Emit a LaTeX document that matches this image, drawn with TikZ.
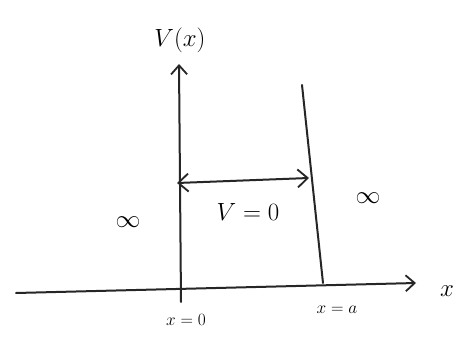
\documentclass[tikz,border=0pt]{standalone}
\usetikzlibrary{arrows.meta}
\begin{document}
\begin{tikzpicture}[x=1pt,y=-1pt,
  stroke/.style={line width=2pt,line cap=round,color=black!85},
  lbl/.style={font=\fontsize{24}{26}\selectfont,inner sep=0pt},
  tip/.style={-{Straight Barb[length=9pt,width=16pt,line width=1.8pt]}},
  dtip/.style={{Straight Barb[length=10pt,width=18pt,line width=1.8pt]}-{Straight Barb[length=10pt,width=18pt,line width=1.8pt]}}]
\useasboundingbox[fill=white] (0,0) rectangle (466,342);
\coordinate (lb) at (181,302);
\coordinate (lt) at (179,64);
\coordinate (rt) at (302,85);
\coordinate (rb) at (323,283);
\coordinate (ax0) at (16,293);
\coordinate (ax1) at (416,283);
\coordinate (da) at (177,183);
\coordinate (db) at (309,178);
\draw[stroke,tip] (lb) -- (lt);
\draw[stroke] (rt) -- (rb);
\draw[stroke,tip] (ax0) -- (ax1);
\draw[stroke,dtip] (da) -- (db);
\node[lbl,font=\fontsize{30}{32}\selectfont] (vx) at (180,40) {$V(x)$};
\node[lbl] (v0) at (248,212) {$V=0$};
\node[lbl,font=\fontsize{36}{38}\selectfont] (infl) at (128,222) {$\infty$};
\node[lbl,font=\fontsize{36}{38}\selectfont] (infr) at (368,198) {$\infty$};
\node[lbl,font=\fontsize{19}{21}\selectfont] (x0) at (186,320) {$x=0$};
\node[lbl,font=\fontsize{19}{21}\selectfont] (xa) at (337,310) {$x=a$};
\node[lbl] (xl) at (447,291) {$x$};
\end{tikzpicture}
\end{document}
